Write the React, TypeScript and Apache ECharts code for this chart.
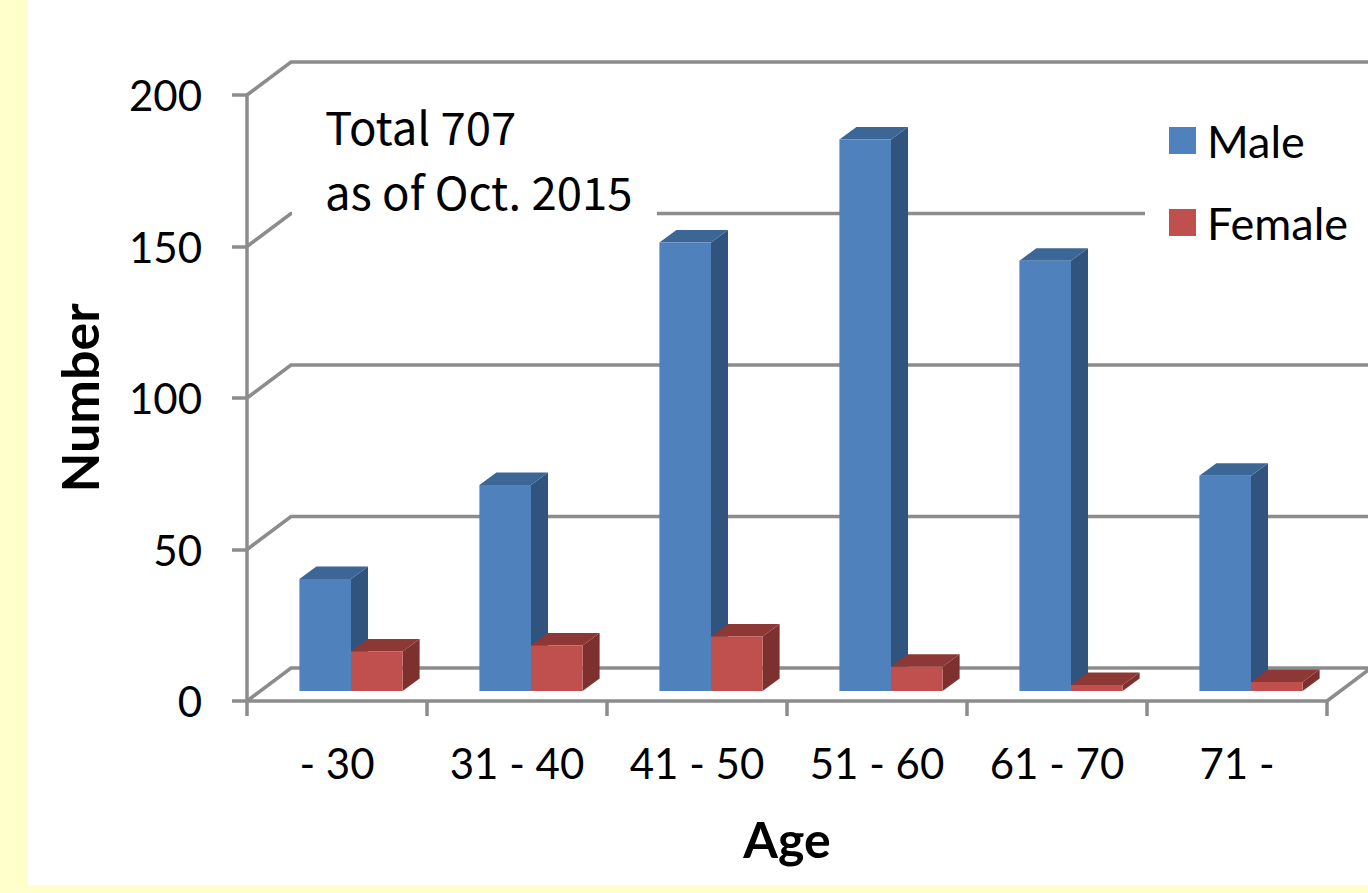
import React, { useEffect, useRef } from "react";
import * as echarts from "echarts";

const categories = ["- 30", "31 - 40", "41 - 50", "51 - 60", "61 - 70", "71 -"];
const maleValues = [37, 68, 148, 182, 142, 71];
const femaleValues = [13, 15, 18, 8, 2, 3];
const yTicks = [0, 50, 100, 150, 200];
const noteLines = ["Total 707", "as of Oct. 2015"];

const LINE = "#8c8c8c";
const UI_FONT = "Lato";
const LINE_W = 3.5;
const WALL_DX = 44;
const WALL_DY = -33;
const BAR_DX = 14;
const BAR_DY = -10;
const DEPTH_X = 17;
const DEPTH_Y = -12.5;
const BAR_RATIO = 51.6 / 180;

const bar3d = (side: number, front: string, sideColor: string, top: string) => (params: any, api: any) => {
  const i = api.value(0);
  const v = api.value(1);
  const p0 = api.coord([i, 0]);
  const p1 = api.coord([i, v]);
  const w = api.size([1, 0])[0] * BAR_RATIO;
  const x0 = p0[0] + BAR_DX + (side < 0 ? -w : 0);
  const x1 = x0 + w;
  const yb = p0[1] + BAR_DY;
  const yt = p1[1] + BAR_DY;
  const poly = (pts: number[][], fill: string) => ({ type: "polygon", shape: { points: pts }, style: { fill } });
  return {
    type: "group",
    children: [
      poly([[x1, yb], [x1 + DEPTH_X, yb + DEPTH_Y], [x1 + DEPTH_X, yt + DEPTH_Y], [x1, yt]], sideColor),
      poly([[x0, yt], [x1, yt], [x1 + DEPTH_X, yt + DEPTH_Y], [x0 + DEPTH_X, yt + DEPTH_Y]], top),
      poly([[x0, yb], [x1, yb], [x1, yt], [x0, yt]], front),
    ],
  };
};

const wallLine = (params: any, api: any) => {
  const y = api.coord([0, api.value(1)])[1];
  const cs = params.coordSys;
  const left = cs.x;
  const right = cs.x + cs.width;
  const style = { stroke: LINE, lineWidth: LINE_W, fill: "none" };
  const children: any[] = [
    { type: "polyline", shape: { points: [[left, y], [left + WALL_DX, y + WALL_DY], [right + WALL_DX, y + WALL_DY]] }, style },
  ];
  if (api.value(1) === 0) {
    children.push({ type: "line", shape: { x1: right, y1: y, x2: right + WALL_DX, y2: y + WALL_DY }, style });
  }
  return { type: "group", children };
};

export default function App() {
  const ref = useRef<HTMLDivElement>(null);
  useEffect(() => {
    const chart = echarts.init(ref.current!, undefined, { renderer: "svg" });
    chart.setOption({
      animation: false,
      grid: { left: 247, top: 95, width: 1080, height: 606, containLabel: false },
      legend: {
        data: ["Male", "Female"],
        orient: "vertical",
        left: 1164,
        top: 113,
        itemWidth: 27,
        itemHeight: 27,
        itemGap: 37,
        icon: "rect",
        z: 6,
        textStyle: { fontFamily: UI_FONT, fontSize: 45, color: "#000", padding: [0, 0, 4, 6] },
      },
      xAxis: {
        type: "category",
        data: categories,
        name: "Age",
        nameLocation: "middle",
        nameGap: 113,
        nameTextStyle: { fontFamily: UI_FONT, fontWeight: "bold", fontSize: 50, color: "#000" },
        axisLine: { lineStyle: { color: LINE, width: LINE_W } },
        axisTick: { show: true, length: 15, lineStyle: { color: LINE, width: LINE_W } },
        axisLabel: { margin: 41, fontFamily: UI_FONT, fontSize: 42, color: "#000", interval: 0 },
      },
      yAxis: {
        type: "value",
        min: 0,
        max: 200,
        interval: 50,
        name: "Number",
        nameLocation: "middle",
        nameGap: 142,
        nameTextStyle: { fontFamily: UI_FONT, fontWeight: "bold", fontSize: 52, color: "#000" },
        axisLine: { show: true, lineStyle: { color: LINE, width: LINE_W } },
        axisTick: { show: true, length: 15, lineStyle: { color: LINE, width: LINE_W } },
        axisLabel: { margin: 45, fontFamily: UI_FONT, fontSize: 42, color: "#000", padding: [6, 0, 0, 0] },
        splitLine: { show: false },
      },
      graphic: {
        elements: [
          { type: "rect", z: 3, shape: { x: 292, y: 100, width: 365, height: 130 }, style: { fill: "#fff" } },
          { type: "rect", z: 3, shape: { x: 1145, y: 100, width: 223, height: 150 }, style: { fill: "#fff" } },
          { type: "text", z: 10, x: 325, y: 102, style: { text: noteLines[0], font: '45.5px "Noto Sans CJK JP"', fill: "#000" } },
          { type: "text", z: 10, x: 325, y: 167, style: { text: noteLines[1], font: '45.5px "Noto Sans CJK JP"', fill: "#000" } },
        ],
      },
      series: [
        {
          type: "custom",
          z: 1,
          silent: true,
          encode: { x: 0, y: 1 },
          renderItem: wallLine,
          data: yTicks.map((v) => [0, v]),
        },
        {
          name: "Male",
          type: "custom",
          z: 5,
          itemStyle: { color: "#4f81bd" },
          encode: { x: 0, y: 1 },
          renderItem: bar3d(-1, "#4f81bd", "#31547e", "#3c6696"),
          data: maleValues.map((v, i) => [i, v]),
        },
        {
          name: "Female",
          type: "custom",
          z: 5,
          itemStyle: { color: "#c0504d" },
          encode: { x: 0, y: 1 },
          renderItem: bar3d(1, "#c0504d", "#7e302e", "#8e3836"),
          data: femaleValues.map((v, i) => [i, v]),
        },
      ],
    });
    return () => chart.dispose();
  }, []);
  return (
    <div style={{ position: "fixed", left: 0, top: 0, width: 1368, height: 893, background: "#ffffcc", overflow: "hidden" }}>
      <div style={{ position: "absolute", left: 28, top: 0, width: 1340, height: 885, background: "#fff" }} />
      <div ref={ref} style={{ position: "absolute", left: 0, top: 0, width: 1368, height: 893 }} />
    </div>
  );
}
